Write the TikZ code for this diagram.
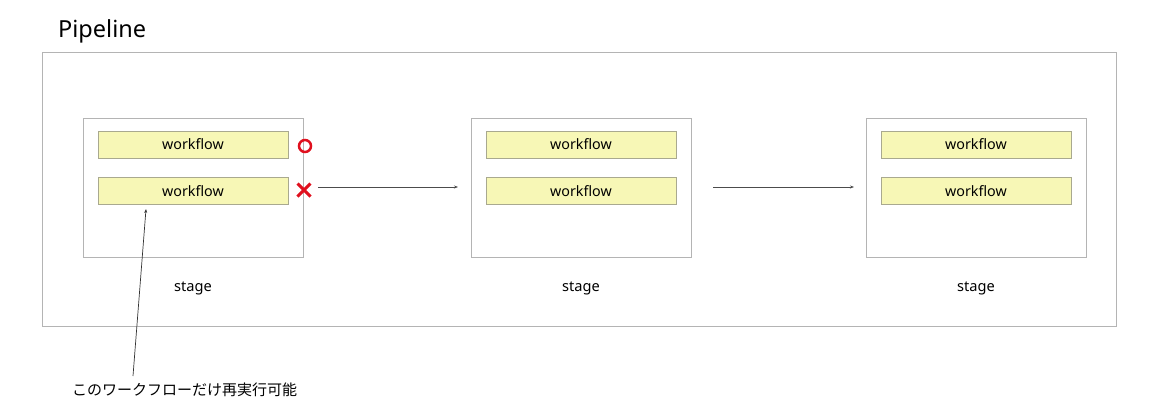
\documentclass[tikz,border=0pt]{standalone}
\usepackage{fontspec}
\setmainfont{Noto Sans}
\newfontfamily\jpfont{Noto Sans CJK JP}
\usetikzlibrary{positioning, arrows.meta, shapes.misc}
\definecolor{framegray}{HTML}{B4B4B4}
\definecolor{wfyellow}{HTML}{F7F7B6}
\definecolor{wfborder}{HTML}{A9A98F}
\definecolor{markred}{HTML}{E0101E}

\begin{document}
\begin{tikzpicture}[x=1pt, y=-1pt, node distance=13pt, >={Stealth[length=4pt, width=3pt]},
    stagebox/.style={draw=framegray, minimum width=220pt, minimum height=139pt, inner sep=0pt},
    wfbox/.style={draw=wfborder, fill=wfyellow, minimum width=190pt, minimum height=27pt,
                  inner sep=0pt, font=\fontsize{14.3}{16}\selectfont},
    lbl/.style={font=\fontsize{14.6}{16}\selectfont, inner sep=0pt},
    flow/.style={->, draw=black!70, line width=0.8pt}]
    \useasboundingbox (0,0) rectangle (1151,418);
    \node[draw=framegray, minimum width=1074pt, minimum height=274pt, inner sep=0pt] (pipe) at (579,189) {};
    \node[anchor=west, inner sep=0pt, font=\fontsize{23.5}{28}\selectfont] (title) at (58,31) {Pipeline};
    % stages
    \node[stagebox] (s1) at (193,187.5) {};
    \node[stagebox] (s2) at (581,187.5) {};
    \node[stagebox] (s3) at (976,187.5) {};
    \node[wfbox, below=13pt of s1.north] (w11) {workflow};
    \node[wfbox, below=19pt of w11] (w12) {workflow};
    \node[wfbox, below=13pt of s2.north] (w21) {workflow};
    \node[wfbox, below=19pt of w21] (w22) {workflow};
    \node[wfbox, below=13pt of s3.north] (w31) {workflow};
    \node[wfbox, below=19pt of w31] (w32) {workflow};
    \node[lbl, below=24pt of s1] (l1) {stage};
    \node[lbl, below=24pt of s2] (l2) {stage};
    \node[lbl, below=24pt of s3] (l3) {stage};
    % marks
    \node[circle, draw=markred, line width=2.5pt, minimum size=12pt, inner sep=0pt] (ok) at (305,146) {};
    \node[cross out, draw=markred, line width=3pt, minimum size=10pt, inner sep=0pt] (ng) at (304,190) {};
    \coordinate (a1) at (318,187);
    \coordinate (b1) at (458,187);
    \coordinate (a2) at (713,187);
    \coordinate (b2) at (854,187);
    \draw[flow] (a1) -- (b1);
    \draw[flow] (a2) -- (b2);
    % note
    \node[anchor=west, inner sep=0pt, font=\jpfont\fontsize{15}{18}\selectfont] (note) at (72,390) {このワークフローだけ再実行可能};
    \coordinate (tip) at (146,209);
    \draw[->, draw=black!80, line width=0.7pt] (133,376) -- (tip);
\end{tikzpicture}
\end{document}
